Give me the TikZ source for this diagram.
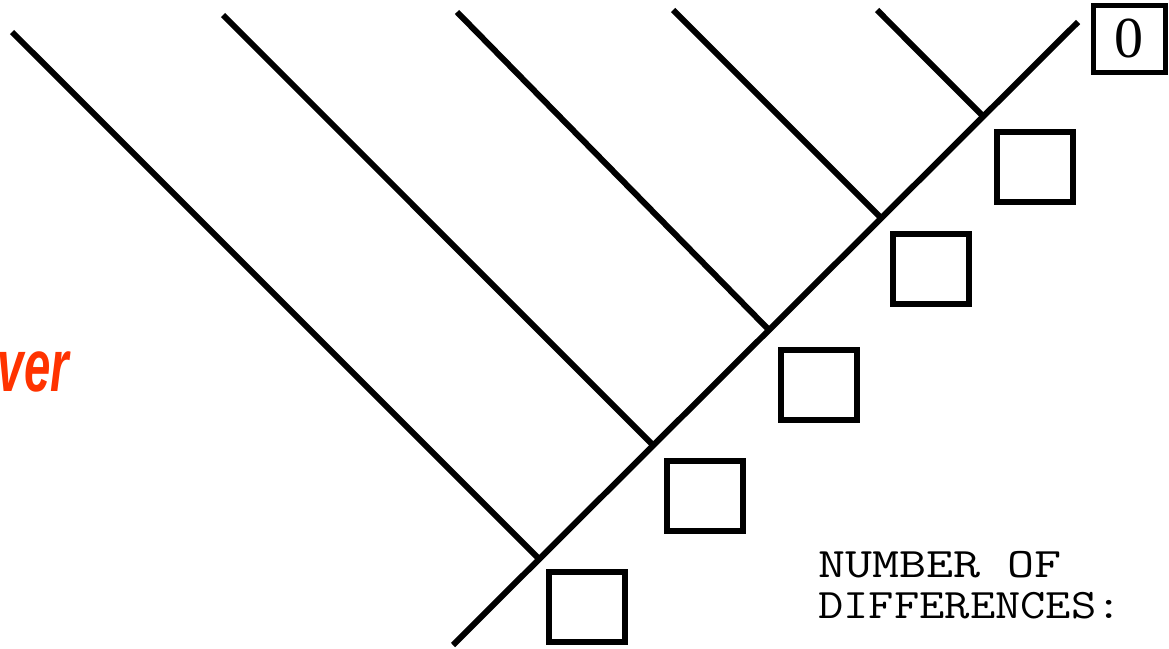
\documentclass[tikz,border=0pt]{standalone}
\usetikzlibrary{calc}
\usepackage{fontspec}
\setmainfont{Liberation Serif}
\newfontfamily\redfnt{Liberation Sans}
\definecolor{answerred}{RGB}{255,51,0}
\begin{document}
\begin{tikzpicture}[x=1pt,y=-1pt,
  branch/.style={line width=6pt, line cap=butt},
  scorebox/.style={draw, line width=6pt, minimum width=76pt, minimum height=70pt, inner sep=0pt},
  labeltext/.style={font=\ttfamily\fontsize{42}{42}\selectfont, inner sep=0pt},
  ]
\useasboundingbox (0,0) rectangle (1169,648);
% main line
\coordinate (A) at (453,645);
\coordinate (B) at (1078,22);
\draw[branch] (A) -- (B);
% branch tops
\coordinate (s1) at (12,32);
\coordinate (s2) at (223,15);
\coordinate (s3) at (457,12);
\coordinate (s4) at (673,10);
\coordinate (s5) at (877,10);
% junctions on main line
\coordinate (j1) at ($(A)!0.138!(B)$);
\coordinate (j2) at ($(A)!0.3205!(B)$);
\coordinate (j3) at ($(A)!0.5056!(B)$);
\coordinate (j4) at ($(A)!0.6851!(B)$);
\coordinate (j5) at ($(A)!0.8485!(B)$);
\foreach \i in {1,...,5} {\draw[branch] (s\i) -- (j\i);}
% boxes
\node[scorebox] (b1) at (587,607) {};
\node[scorebox] (b2) at (705,496) {};
\node[scorebox] (b3) at (819,385) {};
\node[scorebox] (b4) at (930.5,269) {};
\node[scorebox] (b5) at (1035,167) {};
\node[draw, line width=5pt, minimum width=72pt, minimum height=67pt, inner sep=0pt,
  font=\fontsize{58}{58}\selectfont] (b0) at (1129,38.5) {0};
% label
\node[labeltext, anchor=base west] (l1) at (818,577) {\scalebox{1.25}[1]{NUMBER OF}};
\node[labeltext, anchor=base west] (l2) at (818,618) {\scalebox{1.17}[1]{DIFFERENCES:}};
% red clipped text
\node[anchor=base east, inner sep=0pt, text=answerred,
  font=\redfnt\bfseries\itshape\fontsize{74}{74}\selectfont] (ans) at (69,391) {\scalebox{0.64}[1]{ver}};
\end{tikzpicture}
\end{document}
